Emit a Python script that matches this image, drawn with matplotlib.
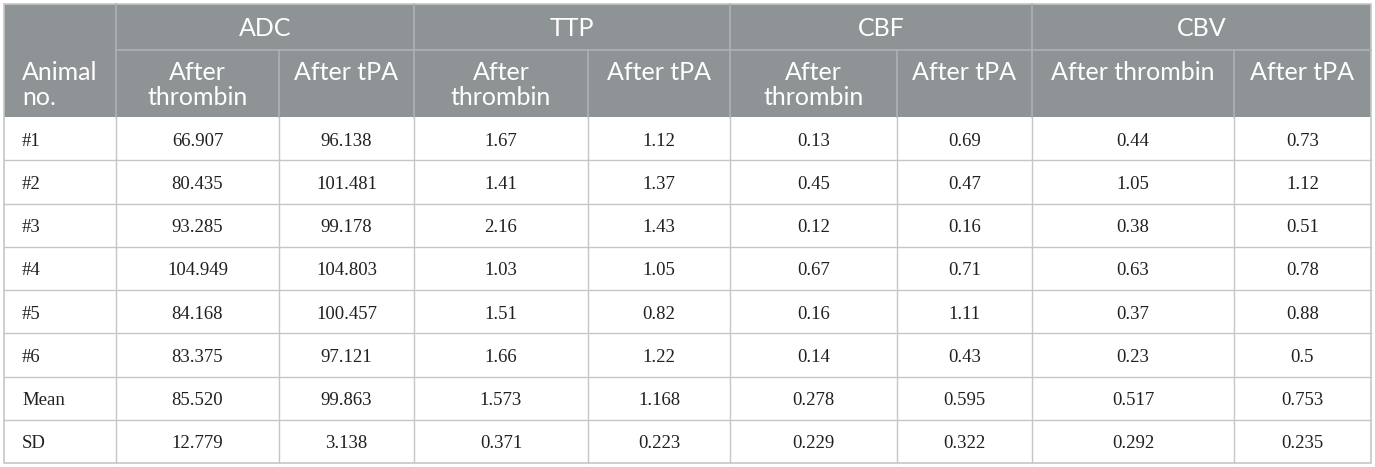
import matplotlib.pyplot as plt
from matplotlib.patches import Rectangle

# table content
groups = ["ADC", "TTP", "CBF", "CBV"]
sub_headers = ["After\nthrombin", "After tPA", "After\nthrombin", "After tPA",
               "After\nthrombin", "After tPA", "After thrombin", "After tPA"]
row_labels = ["#1", "#2", "#3", "#4", "#5", "#6", "Mean", "SD"]

adc_thrombin = ["66.907", "80.435", "93.285", "104.949", "84.168", "83.375", "85.520", "12.779"]
adc_tpa = ["96.138", "101.481", "99.178", "104.803", "100.457", "97.121", "99.863", "3.138"]
ttp_thrombin = ["1.67", "1.41", "2.16", "1.03", "1.51", "1.66", "1.573", "0.371"]
ttp_tpa = ["1.12", "1.37", "1.43", "1.05", "0.82", "1.22", "1.168", "0.223"]
cbf_thrombin = ["0.13", "0.45", "0.12", "0.67", "0.16", "0.14", "0.278", "0.229"]
cbf_tpa = ["0.69", "0.47", "0.16", "0.71", "1.11", "0.43", "0.595", "0.322"]
cbv_thrombin = ["0.44", "1.05", "0.38", "0.63", "0.37", "0.23", "0.517", "0.292"]
cbv_tpa = ["0.73", "1.12", "0.51", "0.78", "0.88", "0.5", "0.753", "0.235"]
columns = [adc_thrombin, adc_tpa, ttp_thrombin, ttp_tpa,
           cbf_thrombin, cbf_tpa, cbv_thrombin, cbv_tpa]

# layout in pixels
W, H = 1375, 467
col_x = [4, 116, 279, 414, 588, 730, 897, 1032, 1234, 1371]
top, h1, h2, bottom = 4, 50, 117, 463
row_h = (bottom - h2) / len(row_labels)

head_col = "#8e9396"
head_line = "#aeb2b5"
grid_col = "#c6c6c6"
sans = ["Lato", "DejaVu Sans"]
serif = ["Liberation Serif", "DejaVu Serif"]
hsize = 18
dsize = 13.5


def head_text(x, label, ha):
    # two-line header labels: baselines at y=80 and y=105
    lines = label.split("\n")
    for k, line in enumerate(lines):
        ax.text(x, 80 + 25 * k, line, ha=ha, va="baseline", color="white",
                fontsize=hsize, family=sans)


fig = plt.figure(figsize=(W / 100, H / 100), dpi=100)
ax = fig.add_axes([0, 0, 1, 1])
ax.set_xlim(0, W)
ax.set_ylim(H, 0)
ax.axis("off")

# header background
ax.add_patch(Rectangle((col_x[0], top), col_x[-1] - col_x[0], h2 - top,
                       facecolor=head_col, edgecolor="none"))

# header lines
ax.plot([col_x[1], col_x[-1]], [h1, h1], color=head_line, lw=1.2)
for i, x in enumerate(col_x[1:-1], start=1):
    if i % 2 == 1:
        ax.plot([x, x], [top, h2], color=head_line, lw=1.2)
    else:
        ax.plot([x, x], [h1, h2], color=head_line, lw=1.2)

# group titles
for g, name in enumerate(groups):
    xc = (col_x[1 + 2 * g] + col_x[3 + 2 * g]) / 2
    ax.text(xc, 36, name, ha="center", va="baseline",
            color="white", fontsize=hsize, family=sans)

# sub headers
head_text(22, "Animal\nno.", "left")
for j, lab in enumerate(sub_headers):
    xc = (col_x[j + 1] + col_x[j + 2]) / 2
    head_text(xc, lab, "center")

# body grid
for r in range(1, len(row_labels)):
    y = h2 + r * row_h
    ax.plot([col_x[0], col_x[-1]], [y, y], color=grid_col, lw=1)
for x in col_x[1:-1]:
    ax.plot([x, x], [h2, bottom], color=grid_col, lw=1)
ax.add_patch(Rectangle((col_x[0], top), col_x[-1] - col_x[0], bottom - top,
                       facecolor="none", edgecolor=grid_col, lw=1.2))

# body text
for r, lab in enumerate(row_labels):
    yb = h2 + (r + 0.5) * row_h + 7
    ax.text(22, yb, lab, ha="left", va="baseline", fontsize=dsize,
            family=serif, color="#231f20")
    for j, col in enumerate(columns):
        xc = (col_x[j + 1] + col_x[j + 2]) / 2
        ax.text(xc, yb, col[r], ha="center", va="baseline", fontsize=dsize,
                family=serif, color="#231f20")

fig.savefig("out.png", dpi=100)
